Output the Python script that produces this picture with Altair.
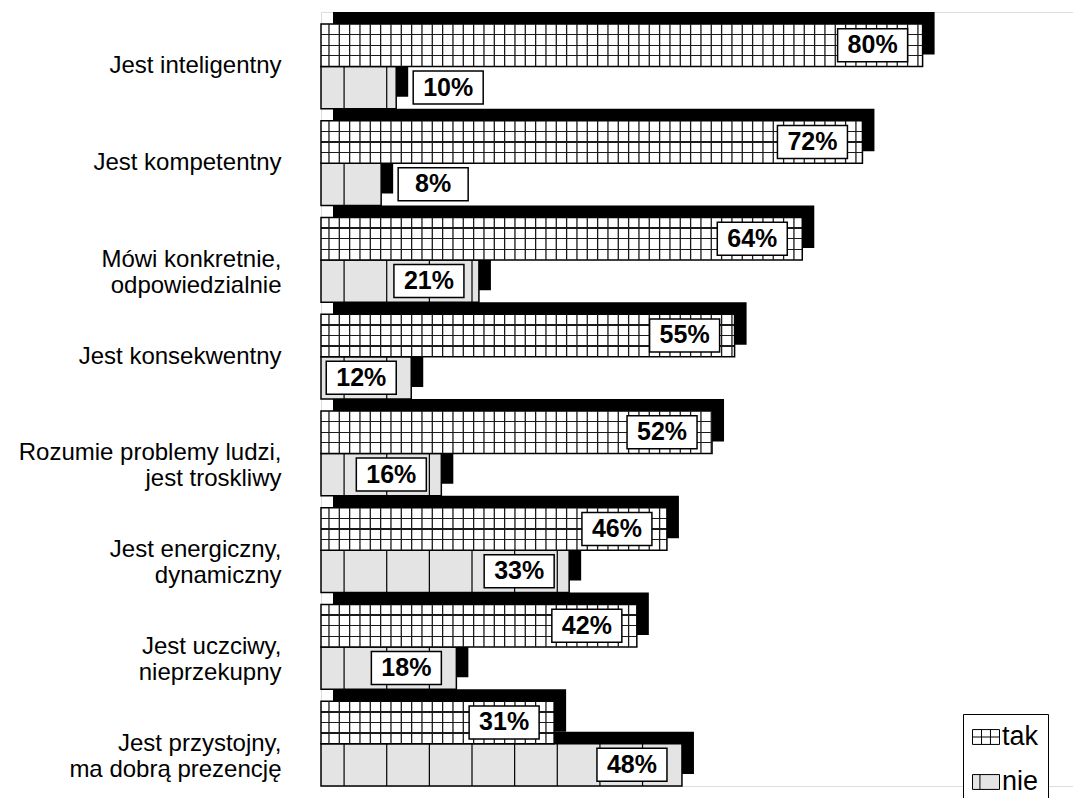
import altair as alt
import pandas as pd

categories = [
    "Jest inteligentny",
    "Jest kompetentny",
    "Mówi konkretnie,\nodpowiedzialnie",
    "Jest konsekwentny",
    "Rozumie problemy ludzi,\njest troskliwy",
    "Jest energiczny,\ndynamiczny",
    "Jest uczciwy,\nnieprzekupny",
    "Jest przystojny,\nma dobrą prezencję",
]
tak = [80, 72, 64, 55, 52, 46, 42, 31]
nie = [10, 8, 21, 12, 16, 33, 18, 48]
series = ["tak", "nie"]

rows = []
for c, t, n in zip(categories, tak, nie):
    rows.append({"cat": c, "series": "tak", "value": t})
    rows.append({"cat": c, "series": "nie", "value": n})
df = pd.DataFrame(rows)

FONT = "Liberation Sans"
W, H = 752, 774
STEP = H / 8
DEPTH = 12
PI = DEPTH / STEP
PO = PI / 2
BAND = STEP * (1 - PI)
SUB = BAND / 2
OFF = SUB / 2
NIE_FILL = "#e4e4e4"

xs = alt.Scale(domain=[0, 100])
X = alt.X("value:Q", scale=xs, axis=None)
Y = alt.Y(
    "cat:N",
    sort=categories,
    scale=alt.Scale(paddingInner=PI, paddingOuter=PO, align=1),
    axis=alt.Axis(
        title=None, domain=False, ticks=False, labelFontSize=24, labelFont=FONT,
        labelColor="black", labelPadding=40, labelLineHeight=26, labelLimit=400,
        labelExpr="split(datum.label, '\\n')",
    ),
)

base = alt.Chart(df)
tk = base.transform_filter("datum.series == 'tak'")
nk = base.transform_filter("datum.series == 'nie'")

# 3D depth (black, shifted)
black_tak = tk.mark_bar(color="black", height=SUB, yOffset=-OFF - DEPTH, y2Offset=-OFF - DEPTH,
                        xOffset=DEPTH, x2Offset=DEPTH).encode(x=X, y=Y)
black_nie = nk.mark_bar(color="black", height=SUB, yOffset=OFF - DEPTH, y2Offset=OFF - DEPTH,
                        xOffset=DEPTH, x2Offset=DEPTH).encode(x=X, y=Y)

# front faces
stops = []
for f in [0.25, 0.5, 0.75]:
    stops += [alt.GradientStop(offset=f - 0.016, color="white"),
              alt.GradientStop(offset=f - 0.016, color="#1a1a1a"),
              alt.GradientStop(offset=f + 0.016, color="#1a1a1a"),
              alt.GradientStop(offset=f + 0.016, color="white")]
grad = alt.LinearGradient(gradient="linear", x1=0, y1=0, x2=0, y2=1,
                          stops=[alt.GradientStop(offset=0, color="white")] + stops +
                          [alt.GradientStop(offset=1, color="white")])

front_nie = nk.mark_bar(fill=NIE_FILL, stroke="black", strokeWidth=1.5, height=SUB,
                        yOffset=OFF, y2Offset=OFF).encode(x=X, y=Y)
front_tak = tk.mark_bar(fill=grad, stroke="black", strokeWidth=1.5, height=SUB,
                        yOffset=-OFF, y2Offset=-OFF).encode(x=X, y=Y)

# pattern lines
grid_tak = tk.transform_calculate(g="sequence(1.06, datum.value, 1.374)").transform_flatten(["g"]).mark_tick(
    orient="vertical", size=SUB, thickness=1.3, color="#1a1a1a", opacity=1, yOffset=-OFF
).encode(x=alt.X("g:Q", scale=xs, axis=None), y=Y)
grid_nie = nk.transform_calculate(g="sequence(3.07, datum.value, 5.67)").transform_flatten(["g"]).mark_tick(
    orient="vertical", size=SUB, thickness=1.2, color="black", opacity=1, yOffset=OFF
).encode(x=alt.X("g:Q", scale=xs, axis=None), y=Y)

BOX = "M-1,-0.471L1,-0.471L1,0.471L-1,0.471Z"


def labels(src, yoff, dx):
    s = src.transform_calculate(lbl="datum.value + '%'")
    box = s.mark_point(shape=BOX, size=4900, filled=True, fill="white", stroke="black",
                       strokeWidth=1.5, opacity=1, xOffset=dx, yOffset=yoff).encode(x=X, y=Y)
    txt = s.mark_text(font=FONT, fontSize=25, fontWeight="bold", color="black",
                      dx=dx, yOffset=yoff, baseline="middle", align="center").encode(
        x=X, y=Y, text="lbl:N")
    return [box, txt]


lab_layers = []
lab_layers += labels(tk, -OFF, -50)
lab_layers += labels(nk.transform_filter("datum.value >= 11"), OFF, -50)
lab_layers += labels(nk.transform_filter("datum.value < 11"), OFF, 52)

TAK_SYM = "M-1,-0.55H1V0.55H-1Z M-1,0H1 M-0.33,-0.55V0.55 M0.33,-0.55V0.55"
NIE_SYM = "M-1,-0.55H1V0.55H-1Z M-0.45,-0.55V0.55"
leg = alt.Legend(
    title=None, orient="none", legendX=642, legendY=702, padding=9,
    strokeColor="black", fillColor="white", labelFontSize=27, labelFont=FONT,
    labelColor="black", symbolSize=729, symbolStrokeColor="black",
    symbolStrokeWidth=1, symbolOpacity=1, rowPadding=18, labelOffset=2,
)
legend_layer = base.mark_point(filled=True, strokeWidth=1, size=729).encode(
    x=alt.value(-3000), y=alt.value(0),
    shape=alt.Shape("series:N", scale=alt.Scale(domain=series, range=[TAK_SYM, NIE_SYM]), legend=leg),
    fill=alt.Fill("series:N", scale=alt.Scale(domain=series, range=["white", NIE_FILL]), legend=leg),
    stroke=alt.Stroke("series:N", scale=alt.Scale(domain=series, range=["black", "black"]), legend=leg),
)

chart = alt.layer(
    black_tak, black_nie, front_nie, front_tak, grid_nie, grid_tak, *lab_layers, legend_layer
).properties(
    width=W, height=H,
    autosize=alt.AutoSizeParams(type="none"),
    padding={"left": 313, "top": 4, "right": 0, "bottom": 12},
).configure_view(stroke=None).configure(background="white")

chart.save("out.html", embed_options={"renderer": "svg", "actions": False})
